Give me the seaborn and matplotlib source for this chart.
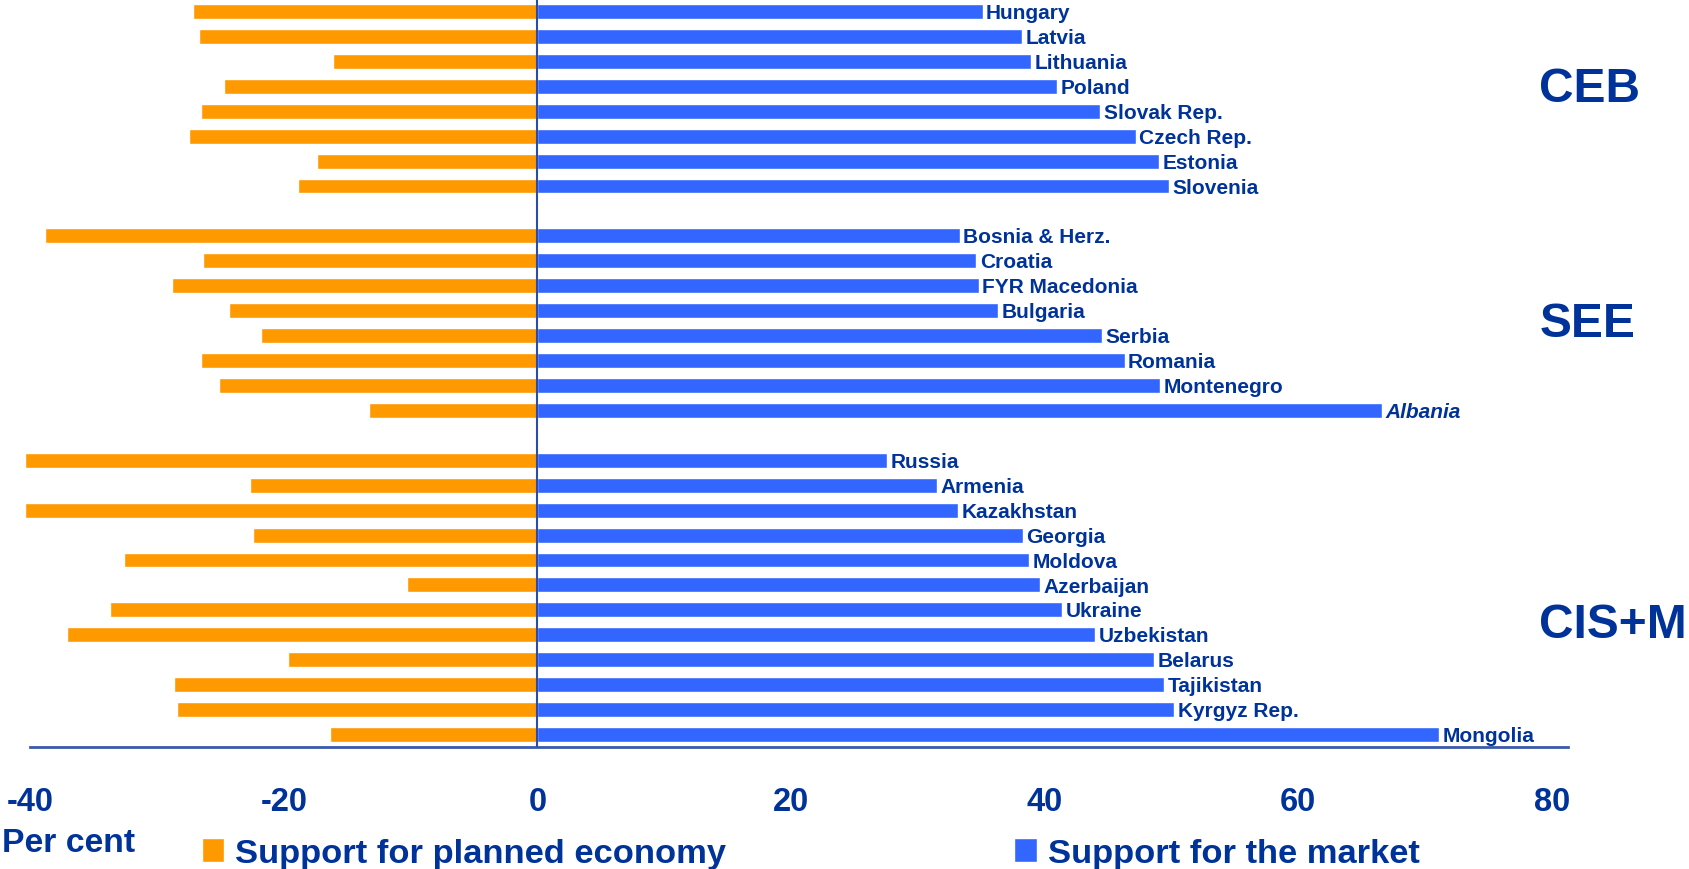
import pandas as pd
import seaborn as sns
import matplotlib.pyplot as plt

# Country groups (per cent)
ceb = ["Hungary", "Latvia", "Lithuania", "Poland", "Slovak Rep.",
       "Czech Rep.", "Estonia", "Slovenia"]
ceb_planned = [-27.2, -26.7, -16.1, -24.7, -26.5, -27.5, -17.4, -18.9]
ceb_market = [35.1, 38.2, 38.9, 41.0, 44.4, 47.2, 49.0, 49.8]

see = ["Bosnia & Herz.", "Croatia", "FYR Macedonia", "Bulgaria", "Serbia",
       "Romania", "Montenegro", "Albania"]
see_planned = [-38.8, -26.4, -28.8, -24.3, -21.8, -26.5, -25.1, -13.3]
see_market = [33.3, 34.6, 34.8, 36.3, 44.5, 46.3, 49.1, 66.6]

cis = ["Russia", "Armenia", "Kazakhstan", "Georgia", "Moldova", "Azerbaijan",
       "Ukraine", "Uzbekistan", "Belarus", "Tajikistan", "Kyrgyz Rep.",
       "Mongolia"]
cis_planned = [-40.4, -22.7, -40.4, -22.4, -32.6, -10.3, -33.7, -37.1,
               -19.7, -28.7, -28.4, -16.4]
cis_market = [27.6, 31.5, 33.2, 38.3, 38.8, 39.6, 41.4, 44.0, 48.6, 49.4,
              50.2, 71.1]

regions = ["CEB", "SEE", "CIS+M"]
series = ["Support for planned economy", "Support for the market"]
x_ticks = [-40, -20, 0, 20, 40, 60, 80]

orange = "#FF9900"
blue = "#3366FF"
navy = "#003399"

# long table, one empty slot between groups
rows = []
pos = 0
for names, planned, market in [(ceb, ceb_planned, ceb_market),
                               (see, see_planned, see_market),
                               (cis, cis_planned, cis_market)]:
    for n, p, m in zip(names, planned, market):
        rows.append([n, pos, series[0], p])
        rows.append([n, pos, series[1], m])
        pos += 1
    pos += 1
df = pd.DataFrame(rows, columns=["country", "pos", "series", "value"])

sns.set_style("white")
plt.rcParams["font.family"] = ["Liberation Sans", "DejaVu Sans"]

fig = plt.figure(figsize=(16.89, 8.70), dpi=100)
ax = fig.add_axes([0.0104, 0.1402, 0.9182, 0.8598])

sns.barplot(data=df, x="value", y="pos", hue="series", orient="h",
            native_scale=True, dodge=False, width=0.6, errorbar=None,
            palette=[orange, blue], ax=ax, saturation=1)

handles, labels = ax.get_legend_handles_labels()
ax.get_legend().remove()

ax.set_xlim(-41, 81.3)
ax.set_ylim(29.5, -0.5)
ax.set_xticks(x_ticks)
ax.set_xticklabels([str(t) for t in x_ticks])
ax.set_yticks([])
ax.set(xlabel=None, ylabel=None)
ax.tick_params(axis="x", length=0, pad=28, labelsize=23.5, labelcolor=navy)
for lab in ax.get_xticklabels():
    lab.set_fontweight("bold")

for s in ["top", "left", "right"]:
    ax.spines[s].set_visible(False)
ax.spines.bottom.set_bounds(-40, 81.3)
ax.spines.bottom.set_color("#3A5BAA")
ax.spines.bottom.set_linewidth(2)

ax.axvline(0, color="#2B4DA6", lw=1.5, zorder=5)

# country names at the end of the market bars
mk = df[df["series"] == series[1]]
for _, r in mk.iterrows():
    ax.annotate(r["country"], (r["value"], r["pos"]), xytext=(2.5, -0.8),
                textcoords="offset points", va="center", ha="left",
                fontsize=15, fontweight="bold", color=navy,
                style="italic" if r["country"] == "Albania" else "normal")

# region labels on the right
for name, y in zip(regions, [3.1, 12.5, 24.6]):
    ax.text(79.0, y, name, ha="left", va="center", fontsize=34.5,
            fontweight="bold", color=navy, clip_on=False)

fig.text(0.001, 0.030, "Per cent", ha="left", va="center", fontsize=24.3,
         fontweight="bold", color=navy)

fig.legend(handles, labels, ncol=2, loc="center left",
           bbox_to_anchor=(0.1196, 0.018), frameon=False,
           handlelength=0.64, handleheight=0.7, handletextpad=0.32,
           columnspacing=8.37, borderpad=0, borderaxespad=0,
           prop={"size": 24.8, "weight": "bold"}, labelcolor=navy)

plt.savefig("out.png", dpi=100)
